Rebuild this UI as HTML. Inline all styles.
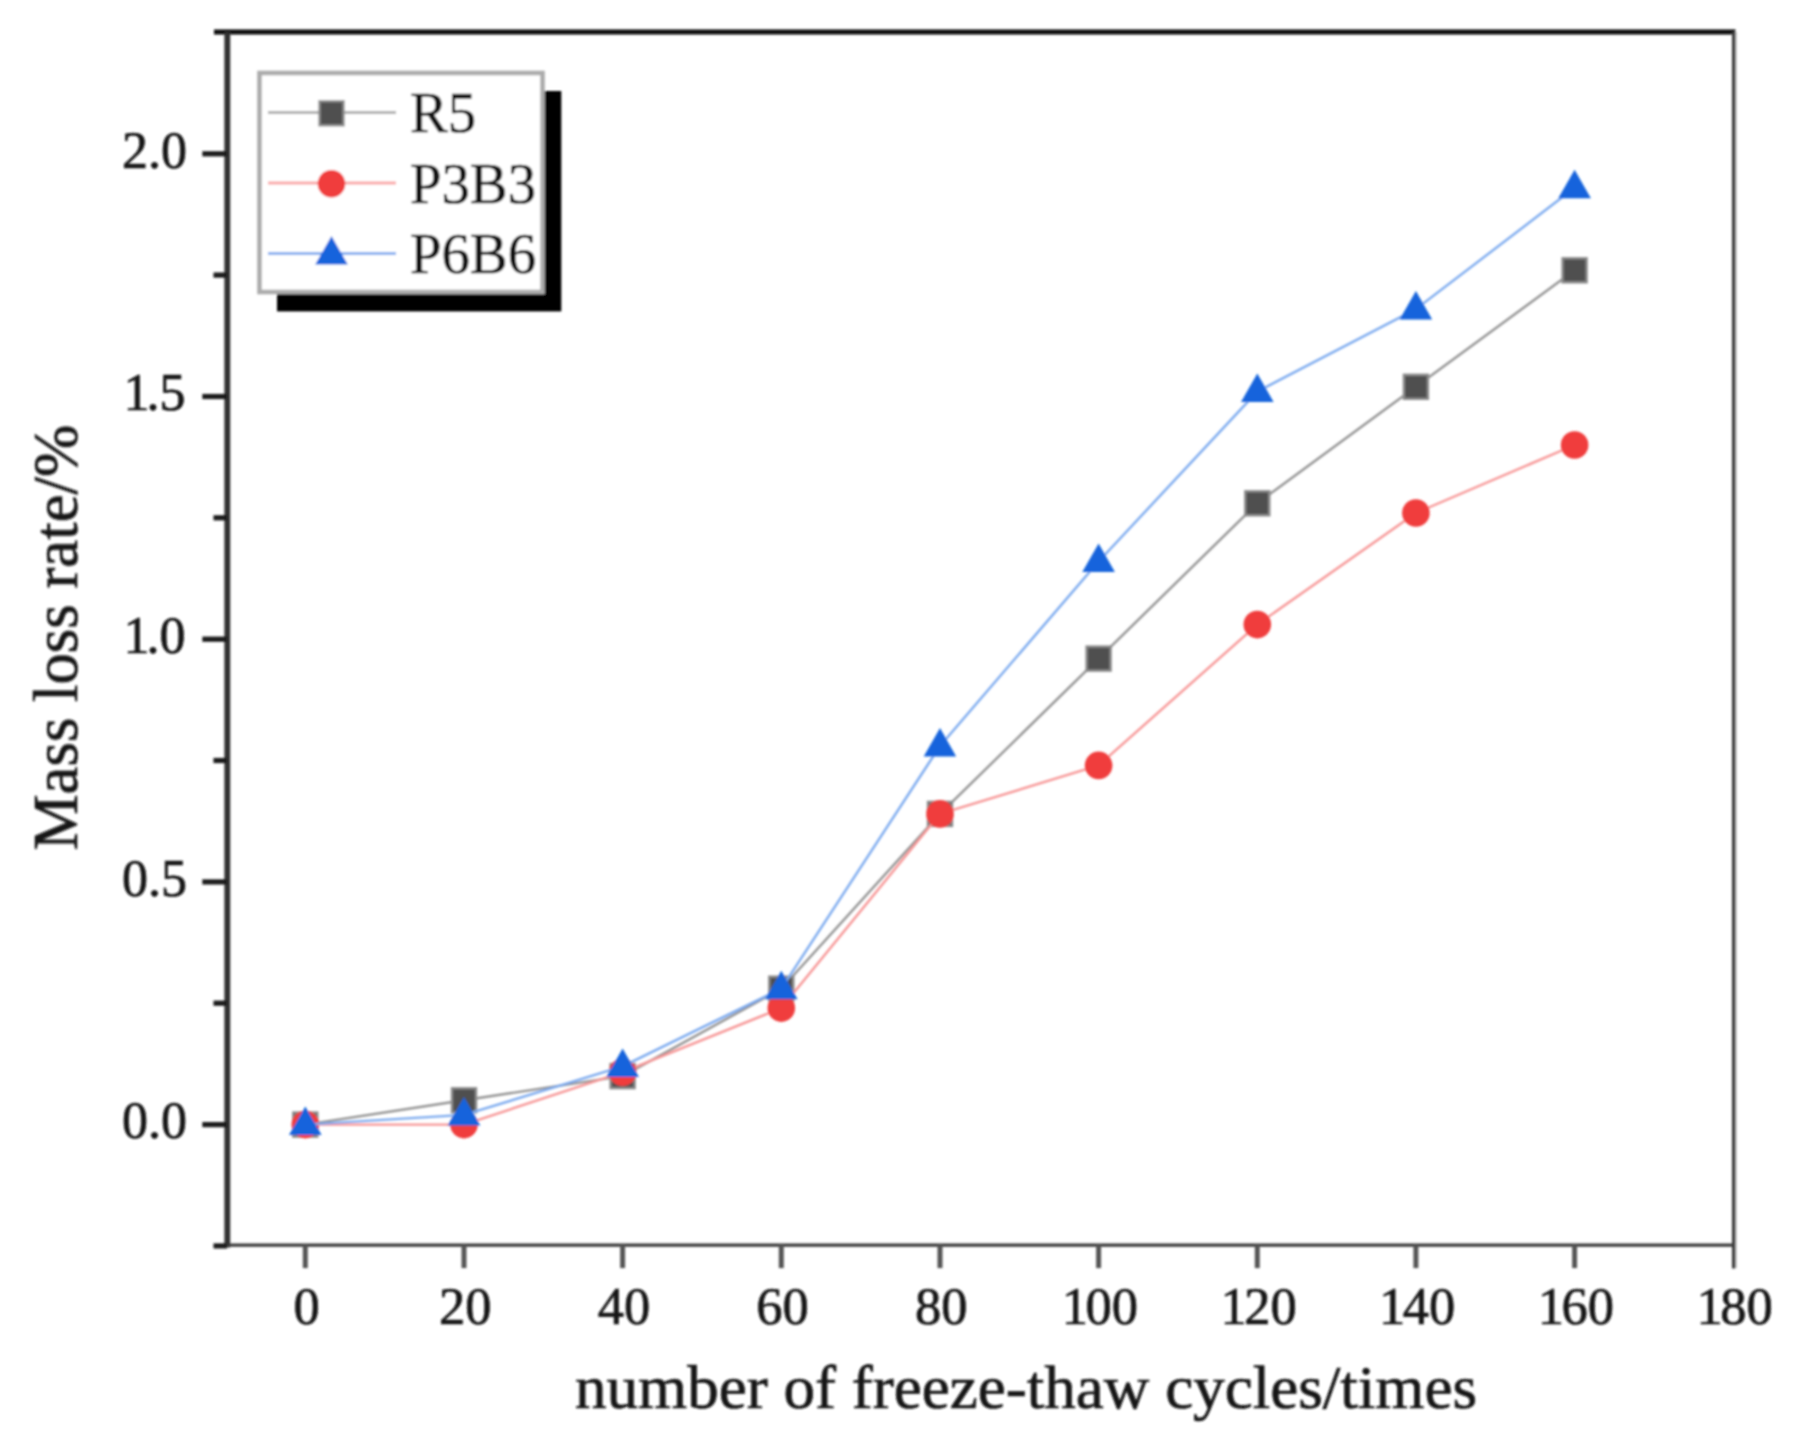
<!DOCTYPE html>
<html lang="en"><head><meta charset="utf-8"><title>Mass loss rate</title>
<style>html,body{margin:0;padding:0;background:#fff;}body{width:1798px;height:1454px;overflow:hidden;}svg{display:block;}text{font-family:"Liberation Serif","Times New Roman",serif;fill:#151515;stroke:#151515;stroke-width:0.7px;}</style></head><body>
<svg width="1798" height="1454" viewBox="0 0 1798 1454">
<defs><filter id="b" x="-2%" y="-2%" width="104%" height="104%"><feGaussianBlur stdDeviation="0.9"/></filter></defs>
<rect width="1798" height="1454" fill="#fff"/>
<g filter="url(#b)">
<line x1="214.0" y1="32.0" x2="1735.5" y2="32.0" stroke="#0a0a0a" stroke-width="5"/>
<line x1="227.3" y1="32.0" x2="227.3" y2="1247.6" stroke="#303030" stroke-width="5.9"/>
<line x1="1736.1" y1="32.0" x2="1736.1" y2="1268.1" stroke="#d0d0d0" stroke-width="2"/>
<line x1="1733.7" y1="32.0" x2="1733.7" y2="1268.6" stroke="#3a3a3a" stroke-width="3.5"/>
<line x1="227.0" y1="1245.1" x2="1733.5" y2="1245.1" stroke="#3a3a3a" stroke-width="3.3"/>
<line x1="202.3" y1="1124.6" x2="227.0" y2="1124.6" stroke="#1c1c1c" stroke-width="5.2"/>
<text x="187" y="1138.4" font-size="52" stroke-width="0.3" text-anchor="end">0.0</text>
<line x1="202.3" y1="881.9" x2="227.0" y2="881.9" stroke="#1c1c1c" stroke-width="5.2"/>
<text x="187" y="895.7" font-size="52" stroke-width="0.3" text-anchor="end">0.5</text>
<line x1="202.3" y1="639.2" x2="227.0" y2="639.2" stroke="#1c1c1c" stroke-width="5.2"/>
<text x="185.5" y="653.0" font-size="52" stroke-width="0.3" text-anchor="end" dx="0 -3">1.0</text>
<line x1="202.3" y1="396.5" x2="227.0" y2="396.5" stroke="#1c1c1c" stroke-width="5.2"/>
<text x="185.5" y="410.3" font-size="52" stroke-width="0.3" text-anchor="end" dx="0 -3">1.5</text>
<line x1="202.3" y1="153.8" x2="227.0" y2="153.8" stroke="#1c1c1c" stroke-width="5.2"/>
<text x="187" y="167.6" font-size="52" stroke-width="0.3" text-anchor="end">2.0</text>
<line x1="213.5" y1="1245.9" x2="227.0" y2="1245.9" stroke="#1c1c1c" stroke-width="5.2"/>
<line x1="213.5" y1="1003.2" x2="227.0" y2="1003.2" stroke="#1c1c1c" stroke-width="5.2"/>
<line x1="213.5" y1="760.5" x2="227.0" y2="760.5" stroke="#1c1c1c" stroke-width="5.2"/>
<line x1="213.5" y1="517.8" x2="227.0" y2="517.8" stroke="#1c1c1c" stroke-width="5.2"/>
<line x1="213.5" y1="275.1" x2="227.0" y2="275.1" stroke="#1c1c1c" stroke-width="5.2"/>
<line x1="305.3" y1="1245.1" x2="305.3" y2="1268.1" stroke="#555" stroke-width="5"/>
<text x="306.6" y="1323.5" font-size="52.5" stroke-width="0.3" text-anchor="middle">0</text>
<line x1="464.0" y1="1245.1" x2="464.0" y2="1268.1" stroke="#555" stroke-width="5"/>
<text x="465.3" y="1323.5" font-size="52.5" stroke-width="0.3" text-anchor="middle">20</text>
<line x1="622.6" y1="1245.1" x2="622.6" y2="1268.1" stroke="#555" stroke-width="5"/>
<text x="623.9" y="1323.5" font-size="52.5" stroke-width="0.3" text-anchor="middle">40</text>
<line x1="781.3" y1="1245.1" x2="781.3" y2="1268.1" stroke="#555" stroke-width="5"/>
<text x="782.6" y="1323.5" font-size="52.5" stroke-width="0.3" text-anchor="middle">60</text>
<line x1="940.0" y1="1245.1" x2="940.0" y2="1268.1" stroke="#555" stroke-width="5"/>
<text x="941.2" y="1323.5" font-size="52.5" stroke-width="0.3" text-anchor="middle">80</text>
<line x1="1098.6" y1="1245.1" x2="1098.6" y2="1268.1" stroke="#555" stroke-width="5"/>
<text x="1099.9" y="1323.5" font-size="52.5" stroke-width="0.3" text-anchor="middle" dx="0 -2.5">100</text>
<line x1="1257.3" y1="1245.1" x2="1257.3" y2="1268.1" stroke="#555" stroke-width="5"/>
<text x="1258.6" y="1323.5" font-size="52.5" stroke-width="0.3" text-anchor="middle" dx="0 -2.5">120</text>
<line x1="1415.9" y1="1245.1" x2="1415.9" y2="1268.1" stroke="#555" stroke-width="5"/>
<text x="1417.2" y="1323.5" font-size="52.5" stroke-width="0.3" text-anchor="middle" dx="0 -2.5">140</text>
<line x1="1574.6" y1="1245.1" x2="1574.6" y2="1268.1" stroke="#555" stroke-width="5"/>
<text x="1575.9" y="1323.5" font-size="52.5" stroke-width="0.3" text-anchor="middle" dx="0 -2.5">160</text>
<text x="1734.6" y="1323.5" font-size="52.5" stroke-width="0.3" text-anchor="middle" dx="0 -2.5">180</text>
<text x="575" y="1408" font-size="60.5" textLength="902" lengthAdjust="spacingAndGlyphs">number of freeze-thaw cycles/times</text>
<text transform="translate(77,850.3) rotate(-90)" font-size="63" textLength="425.5" lengthAdjust="spacingAndGlyphs">Mass loss rate/%</text>
<polyline points="305.3,1124.6 464.0,1100.3 622.6,1076.1 781.3,988.7 940.0,813.9 1098.6,658.6 1257.3,503.3 1415.9,386.8 1574.6,270.3" fill="none" stroke="#949494" stroke-width="2.4" stroke-linejoin="round"/>
<rect x="293.3" y="1112.6" width="24" height="24" fill="#4f4f4f" stroke="#8a8a8a" stroke-width="2.4"/>
<rect x="452.0" y="1088.3" width="24" height="24" fill="#4f4f4f" stroke="#8a8a8a" stroke-width="2.4"/>
<rect x="610.6" y="1064.1" width="24" height="24" fill="#4f4f4f" stroke="#8a8a8a" stroke-width="2.4"/>
<rect x="769.3" y="976.7" width="24" height="24" fill="#4f4f4f" stroke="#8a8a8a" stroke-width="2.4"/>
<rect x="928.0" y="801.9" width="24" height="24" fill="#4f4f4f" stroke="#8a8a8a" stroke-width="2.4"/>
<rect x="1086.6" y="646.6" width="24" height="24" fill="#4f4f4f" stroke="#8a8a8a" stroke-width="2.4"/>
<rect x="1245.3" y="491.3" width="24" height="24" fill="#4f4f4f" stroke="#8a8a8a" stroke-width="2.4"/>
<rect x="1403.9" y="374.8" width="24" height="24" fill="#4f4f4f" stroke="#8a8a8a" stroke-width="2.4"/>
<rect x="1562.6" y="258.3" width="24" height="24" fill="#4f4f4f" stroke="#8a8a8a" stroke-width="2.4"/>
<polyline points="305.3,1124.6 464.0,1124.6 622.6,1072.2 781.3,1008.1 940.0,813.9 1098.6,765.4 1257.3,624.6 1415.9,513.0 1574.6,445.0" fill="none" stroke="#f79696" stroke-width="2.4" stroke-linejoin="round"/>
<circle cx="305.3" cy="1124.6" r="13.8" fill="#f03c3c"/>
<circle cx="464.0" cy="1124.6" r="13.8" fill="#f03c3c"/>
<circle cx="622.6" cy="1072.2" r="13.8" fill="#f03c3c"/>
<circle cx="781.3" cy="1008.1" r="13.8" fill="#f03c3c"/>
<circle cx="940.0" cy="813.9" r="13.8" fill="#f03c3c"/>
<circle cx="1098.6" cy="765.4" r="13.8" fill="#f03c3c"/>
<circle cx="1257.3" cy="624.6" r="13.8" fill="#f03c3c"/>
<circle cx="1415.9" cy="513.0" r="13.8" fill="#f03c3c"/>
<circle cx="1574.6" cy="445.0" r="13.8" fill="#f03c3c"/>
<polyline points="305.3,1124.6 464.0,1114.9 622.6,1066.4 781.3,988.7 940.0,746.0 1098.6,561.5 1257.3,391.6 1415.9,309.1 1574.6,187.8" fill="none" stroke="#7caaef" stroke-width="2.4" stroke-linejoin="round"/>
<polygon points="305.3,1106.6 289.0,1135.1 321.6,1135.1" fill="#1464dc"/>
<polygon points="464.0,1096.9 447.7,1125.4 480.3,1125.4" fill="#1464dc"/>
<polygon points="622.6,1048.4 606.3,1076.9 638.9,1076.9" fill="#1464dc"/>
<polygon points="781.3,970.7 765.0,999.2 797.6,999.2" fill="#1464dc"/>
<polygon points="940.0,728.0 923.7,756.5 956.2,756.5" fill="#1464dc"/>
<polygon points="1098.6,543.5 1082.3,572.0 1114.9,572.0" fill="#1464dc"/>
<polygon points="1257.3,373.6 1241.0,402.1 1273.6,402.1" fill="#1464dc"/>
<polygon points="1415.9,291.1 1399.6,319.6 1432.2,319.6" fill="#1464dc"/>
<polygon points="1574.6,169.8 1558.3,198.3 1590.9,198.3" fill="#1464dc"/>
<rect x="277" y="91" width="284.3" height="220.4" fill="#000"/>
<rect x="259.5" y="73" width="283" height="219" fill="#fff" stroke="#acacac" stroke-width="4.6"/>
<line x1="268" y1="112.5" x2="396" y2="112.5" stroke="#b0b0b0" stroke-width="3"/>
<rect x="319.5" y="101.3" width="24" height="24" fill="#4f4f4f" stroke="#8a8a8a" stroke-width="2.4"/>
<line x1="268" y1="183" x2="396" y2="183" stroke="#f9a8a8" stroke-width="3"/>
<circle cx="331.5" cy="183.8" r="13.8" fill="#f03c3c"/>
<line x1="268" y1="253.5" x2="396" y2="253.5" stroke="#86b0f0" stroke-width="3"/>
<polygon points="331.5,236.0 315.2,264.5 347.8,264.5" fill="#1464dc"/>
<text x="410" y="132.1" font-size="56.7">R5</text>
<text x="410" y="202.6" font-size="56.7">P3B3</text>
<text x="410" y="273.1" font-size="56.7">P6B6</text>
</g></svg></body></html>
